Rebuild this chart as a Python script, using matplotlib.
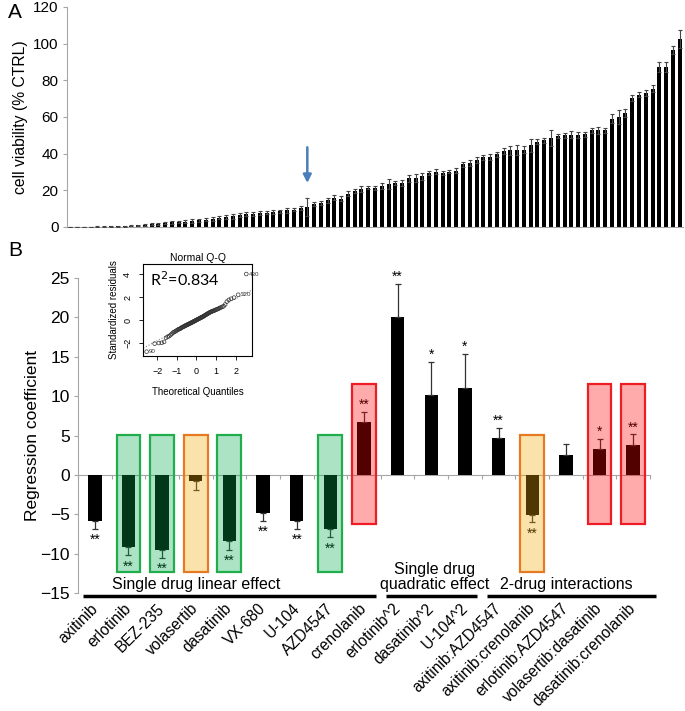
import matplotlib
matplotlib.use('Agg')
import matplotlib.pyplot as plt
import numpy as np
from statistics import NormalDist
from matplotlib.patches import Rectangle

plt.rcParams['font.family'] = ['Liberation Sans', 'DejaVu Sans']

# ---------------- Panel A data ----------------
viability = [0.1, 0.1, 0.1, 0.15, 0.2, 0.2, 0.3, 0.4,
             0.5, 0.7, 0.9, 1.3, 1.5, 1.8, 2.2, 2.5, 2.7, 2.9, 3.3, 3.6,
             4.0, 4.4, 5.0, 5.5, 5.8, 6.4, 6.9, 7.1, 7.6, 7.8,
             8.2, 8.5, 9.1, 9.5, 10.5, 11.0, 12.4, 13.1, 14.5, 16.0, 15.5, 18.2,
             19.5, 20.7, 21.3, 21.3, 22.4, 23.3, 24.0, 24.0, 26.7, 26.7,
             27.6, 29.5, 30.2, 29.6, 30.2, 30.7, 34.2, 34.9, 36.7, 38.0,
             38.2, 39.6, 41.3, 41.8, 41.8, 42.2, 44.5, 46.5, 47.3, 48.5,
             49.5, 50.0, 50.4, 50.2, 50.5, 52.7, 52.7, 52.7, 59.1, 60.0,
             62.2, 70.2, 72.2, 73.1, 75.5, 87.3, 87.3, 96.4, 102.7]
viability_err = [0.1, 0.1, 0.1, 0.1, 0.1, 0.2, 0.2, 0.2,
                 0.3, 0.3, 0.4, 0.5, 0.5, 0.6, 0.7, 0.8, 0.6, 0.7, 1.3, 0.8,
                 0.9, 1.0, 0.8, 0.9, 1.2, 1.0, 1.1, 0.9, 1.0, 0.8,
                 1.0, 0.9, 1.2, 1.0, 1.1, 5.0, 1.2, 1.0, 1.2, 1.5, 1.4, 1.3,
                 1.0, 1.5, 0.8, 1.3, 1.6, 2.7, 1.3, 1.4, 1.9, 2.3,
                 2.0, 1.2, 1.3, 1.0, 1.0, 1.4, 1.5, 1.6, 1.7, 1.5,
                 1.4, 1.5, 1.6, 2.6, 2.7, 1.8, 3.7, 1.3, 1.4, 4.2,
                 1.0, 1.5, 2.0, 1.8, 1.2, 1.3, 1.8, 1.3, 2.4, 3.6,
                 2.3, 1.6, 1.4, 1.5, 1.8, 2.7, 2.7, 2.1, 5.0]
arrow_index = 35

# ---------------- Panel B data ----------------
drugs = ['axitinib', 'erlotinib', 'BEZ-235', 'volasertib', 'dasatinib', 'VX-680',
         'U-104', 'AZD4547', 'crenolanib', 'erlotinib^2', 'dasatinib^2', 'U-104^2',
         'axitinib:AZD4547', 'axitinib:crenolanib', 'erlotinib:AZD4547',
         'volasertib:dasatinib', 'dasatinib:crenolanib']
coef = [-5.8, -9.15, -9.5, -0.8, -8.4, -4.8, -5.8, -6.9, 6.75,
        20.0, 10.1, 11.1, 4.7, -5.05, 2.5, 3.25, 3.8]
coef_err = [1.0, 1.05, 1.0, 1.05, 1.1, 1.0, 1.05, 1.0, 1.25,
            4.3, 4.3, 4.3, 1.3, 0.95, 1.4, 1.35, 1.35]
signif = ['**', '**', '**', '', '**', '**', '**', '**', '**',
          '**', '*', '*', '**', '**', '', '*', '**']
highlight = [None, 'green', 'green', 'orange', 'green', None, None, 'green', 'red',
             None, None, None, None, 'orange', None, 'red', 'red']
groups = [('Single drug linear effect', 0, 8),
          ('Single drug\nquadratic effect', 9, 11),
          ('2-drug interactions', 12, 16)]

# Q-Q inset data (standardized residuals, sorted)
std_resid = [-2.75, -2.05, -2.0, -1.98, -1.9, -1.55, -1.45, -1.4, -1.3, -1.2,
             -1.1, -1.05, -1.0, -0.95, -0.9, -0.85, -0.8, -0.78, -0.75, -0.7,
             -0.66, -0.62, -0.6, -0.57, -0.54, -0.5, -0.48, -0.45, -0.42, -0.4,
             -0.37, -0.35, -0.32, -0.3, -0.28, -0.25, -0.22, -0.2, -0.18, -0.15,
             -0.12, -0.1, -0.08, -0.05, -0.02, 0.0, 0.03, 0.05, 0.08, 0.1,
             0.12, 0.15, 0.18, 0.2, 0.22, 0.25, 0.28, 0.3, 0.33, 0.36,
             0.4, 0.43, 0.46, 0.5, 0.53, 0.56, 0.6, 0.63, 0.66, 0.7,
             0.72, 0.75, 0.78, 0.8, 0.83, 0.86, 0.9, 0.93, 0.96, 1.0,
             1.05, 1.1, 1.15, 1.2, 1.35, 1.6, 1.75, 1.85, 1.95, 2.2, 4.0]
qq_labels = {0: '90', 89: '520', 90: '430'}
r2_text = 'R$^2$=0.834'

GREY = '#a6a6a6'
box_style = {
    'green': dict(fc=(0/255, 171/255, 78/255), ec='#1fae4b', top=5.1, bottom=-12.25),
    'orange': dict(fc=(240/255, 170/255, 0/255), ec='#e57a22', top=5.1, bottom=-12.25),
    'red': dict(fc=(1.0, 0.0, 0.0), ec='#ee1c25', top=11.5, bottom=-6.2),
}
group_label_shift = [-1.0, 0.0, 0.0]

fig = plt.figure(figsize=(6.85, 7.11), dpi=100)

# ---------------- Panel A ----------------
axA = fig.add_axes([67/685, 1-227/711, 616/685, 220/711])
xa = np.arange(len(viability))
axA.bar(xa, viability, width=0.6, color='black', zorder=2)
axA.errorbar(xa, viability, yerr=viability_err, fmt='none', ecolor='#444444',
             elinewidth=0.8, capsize=1.5, capthick=0.8, zorder=3)
axA.set_xlim(-0.5, len(viability) - 0.5)
axA.set_ylim(0, 120)
axA.set_yticks(np.arange(0, 121, 20))
axA.tick_params(axis='y', labelsize=11, length=3, color=GREY, width=0.8, pad=3)
axA.set_xticks([])
for s in ['top', 'right']:
    axA.spines[s].set_visible(False)
for s in ['left', 'bottom']:
    axA.spines[s].set_color(GREY)
    axA.spines[s].set_linewidth(0.8)
axA.set_ylabel('cell viability (% CTRL)', fontsize=11.3, labelpad=4)
axA.annotate('', xy=(arrow_index, viability[arrow_index] + viability_err[arrow_index] + 6.5),
             xytext=(arrow_index, viability[arrow_index] + viability_err[arrow_index] + 29),
             arrowprops=dict(arrowstyle='-|>', color='#4a7ebb', lw=1.8,
                             mutation_scale=12))
fig.text(8/685, 1-12/711, 'A', fontsize=15, va='center', ha='left')

# ---------------- Panel B ----------------
axB = fig.add_axes([78/685, 1-593.3/711, 572/685, 315.3/711])
xb = np.arange(len(drugs))
cf = np.array(coef)
ce = np.array(coef_err)
axB.bar(xb, coef, width=0.4, color='black', zorder=2)
pos = cf >= 0
axB.errorbar(xb[pos], cf[pos], yerr=[np.zeros(pos.sum()), ce[pos]], fmt='none',
             ecolor='#333333', elinewidth=0.9, capsize=2.5, capthick=0.9, zorder=3)
axB.errorbar(xb[~pos], cf[~pos], yerr=[ce[~pos], np.zeros((~pos).sum())], fmt='none',
             ecolor='#333333', elinewidth=0.9, capsize=2.5, capthick=0.9, zorder=3)
for i, (c, e, s) in enumerate(zip(coef, coef_err, signif)):
    if not s:
        continue
    if c >= 0:
        axB.text(i, c + e + 0.35, s, ha='center', va='baseline', fontsize=10, zorder=4)
    else:
        axB.text(i, c - e - 1.9, s, ha='center', va='baseline', fontsize=10, zorder=4)

for i, h in enumerate(highlight):
    if h is None:
        continue
    st = box_style[h]
    axB.add_patch(Rectangle((i - 0.355, st['bottom']), 0.71, st['top'] - st['bottom'],
                            facecolor=st['fc'], alpha=0.33, edgecolor='none', zorder=5))
    axB.add_patch(Rectangle((i - 0.355, st['bottom']), 0.71, st['top'] - st['bottom'],
                            facecolor='none', edgecolor=st['ec'], lw=1.6, zorder=6))

axB.set_xlim(-0.5, len(drugs) - 0.5)
axB.set_ylim(-15, 25)
axB.set_yticks(np.arange(-15, 26, 5))
axB.tick_params(axis='y', labelsize=12.5, length=3, color=GREY, width=0.8, pad=3)
axB.spines['bottom'].set_position(('data', 0))
axB.spines['bottom'].set_color(GREY)
axB.spines['bottom'].set_linewidth(0.8)
axB.spines['bottom'].set_zorder(1)
axB.set_xticks(np.arange(-0.5, len(drugs), 1.0))
axB.set_xticklabels([])
axB.tick_params(axis='x', direction='out', length=3, color=GREY, width=0.8)
for s in ['top', 'right']:
    axB.spines[s].set_visible(False)
axB.spines['left'].set_color(GREY)
axB.spines['left'].set_linewidth(0.8)
axB.set_ylabel('Regression coefficient', fontsize=12.5, labelpad=0)

for i, name in enumerate(drugs):
    axB.text(i - 0.15, -15.95, name, rotation=45, ha='right', va='top',
             rotation_mode='anchor', fontsize=11.2, clip_on=False)

line_y = -15.3
for (label, a, b), sh in zip(groups, group_label_shift):
    right_pad = 0.67 if b == len(drugs) - 1 else 0.37
    axB.plot([a - 0.35, b + right_pad], [line_y, line_y], color='black', lw=2.5,
             clip_on=False, solid_capstyle='butt')
    axB.text((a + b) / 2 + sh + (0.1 if '\n' in label else 0.0), line_y + 0.5, label,
             ha='center', va='bottom', fontsize=11.5, linespacing=1.0, clip_on=False)

fig.text(8/685, 1-250/711, 'B', fontsize=15, va='center', ha='left')

# ---------------- Q-Q inset ----------------
axQ = fig.add_axes([143.3/685, 1-355.7/711, 108.4/685, 91.7/711])
n = len(std_resid)
theo = [NormalDist().inv_cdf((k + 0.5) / n) for k in range(n)]
axQ.scatter(theo, std_resid, s=7, facecolors='none', edgecolors='#333333',
            linewidths=0.5, zorder=3)
q1, q3 = np.percentile(std_resid, [25, 75])
t1, t3 = NormalDist().inv_cdf(0.25), NormalDist().inv_cdf(0.75)
slope = (q3 - q1) / (t3 - t1)
inter = q1 - slope * t1
xl = np.array([-2.71, 2.82])
axQ.plot(xl, inter + slope * xl, ls=':', color='#888888', lw=0.8, zorder=2)
for k, lab in qq_labels.items():
    axQ.text(theo[k] + 0.12, std_resid[k], lab, fontsize=4.5, va='center',
             ha='left', color='#333333')
axQ.set_xlim(-2.71, 2.82)
axQ.set_ylim(-3.1, 4.87)
axQ.set_xticks([-2, -1, 0, 1, 2])
axQ.set_yticks([-2, 0, 2, 4])
axQ.tick_params(labelsize=6.5, length=3, width=0.6, pad=5)
for lab in axQ.get_yticklabels():
    lab.set_rotation(90)
    lab.set_va('center')
for s in axQ.spines.values():
    s.set_linewidth(0.8)
axQ.set_title('Normal Q-Q', fontsize=7.5, pad=2)
axQ.set_xlabel('Theoretical Quantiles', fontsize=7, labelpad=8)
axQ.set_ylabel('Standardized residuals', fontsize=7, labelpad=3)
axQ.text(0.06, 0.83, r2_text, transform=axQ.transAxes, fontsize=11.5,
         family=['Lato', 'DejaVu Sans'], va='center', ha='left')

fig.savefig('out.png', dpi=100)
